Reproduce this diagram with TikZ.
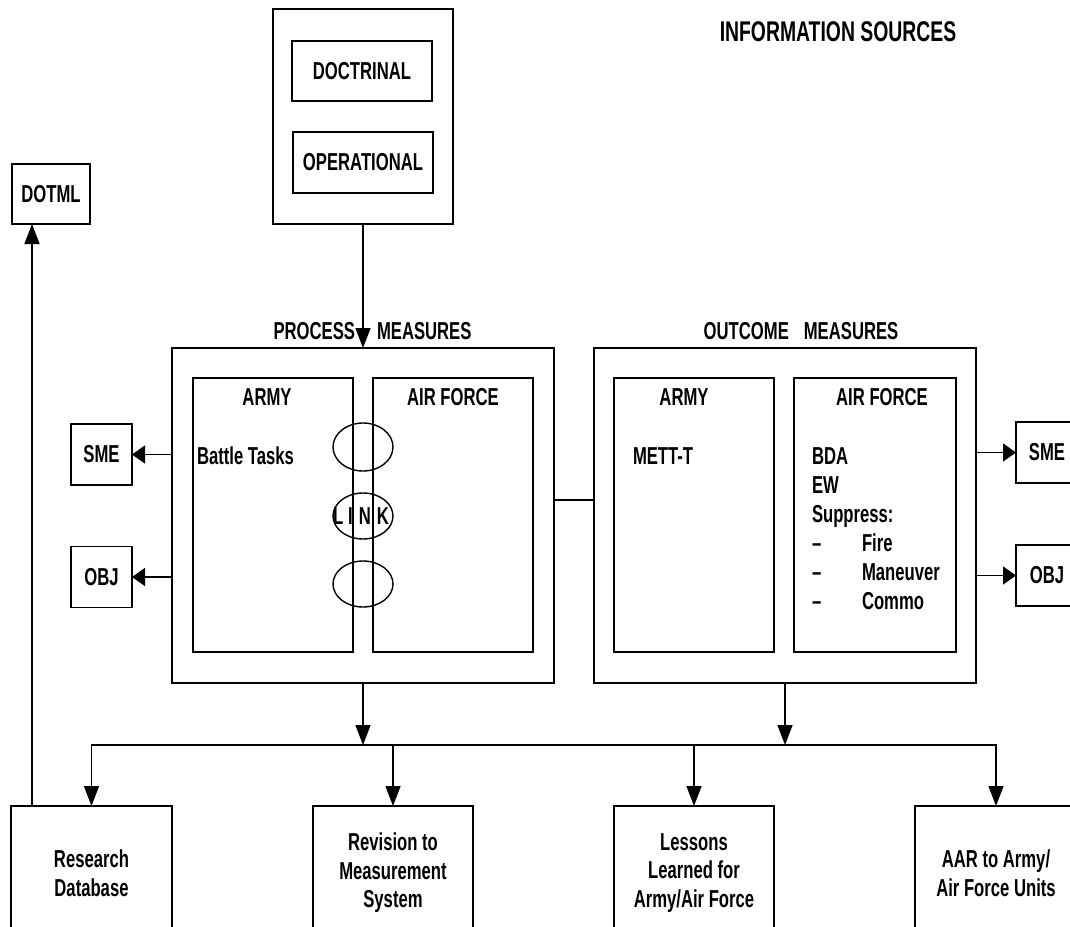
\documentclass[tikz,border=0pt]{standalone}
\usepackage{fontspec}
\setmainfont{Liberation Sans}[FakeStretch=0.68]
\usetikzlibrary{arrows.meta,shapes.geometric}
\newcommand{\fs}{\fontsize{24.5}{28.5}\selectfont\bfseries}
\begin{document}
\begin{tikzpicture}[x=1pt,y=-1pt,
  box/.style={draw, line width=1.4pt, inner sep=0pt, outer sep=0pt, font=\fs, align=center},
  lbl/.style={inner sep=0pt, outer sep=0pt, font=\fs, anchor=base},
  lbll/.style={lbl, anchor=base west},
  varr/.style={line width=1.4pt, -{Triangle[length=20pt,width=15pt]}},
  darr/.style={line width=1.4pt, {Triangle[length=20pt,width=15pt]}-{Triangle[length=20pt,width=15pt]}},
  harr/.style={line width=1.4pt, -{Triangle[length=13pt,width=18pt]}},
  conn/.style={line width=1.4pt},
  linkell/.style={draw, ellipse, line width=1.4pt, inner sep=0pt, minimum width=60pt, minimum height=46pt}]
\clip (0,0) rectangle (1070,926);
% information sources
\node[box, minimum width=180pt, minimum height=215pt] (src) at (363,116.5) {};
\node[box, minimum width=140pt, minimum height=60pt] (doc) at (362,71) {DOCTRINAL};
\node[box, minimum width=140pt, minimum height=61pt] (ops) at (363,162.5) {OPERATIONAL};
\node[lbl, font=\fontsize{28.5}{30}\selectfont\bfseries] (info) at (838,41) {INFORMATION SOURCES};
\node[box, minimum width=78pt, minimum height=60pt] (dotml) at (51,194) {DOTML};
% process measures
\node[box, minimum width=382pt, minimum height=335pt] (proc) at (363,515.5) {};
\node[lbl] (proct) at (372.5,339) {PROCESS\hspace{22pt}MEASURES};
\node[box, minimum width=160pt, minimum height=274pt] (parmy) at (273,515) {};
\node[box, minimum width=160pt, minimum height=274pt] (paf) at (453,515) {};
\node[lbl] (parmyt) at (267,405) {ARMY};
\node[lbl] (paft) at (453,405) {AIR FORCE};
\node[lbll] (battle) at (197,464) {Battle Tasks};
\node[linkell, minimum height=48pt] (e1) at (363,447) {};
\node[linkell] (e2) at (363,516) {};
\node[linkell] (e3) at (363,584) {};
\node[lbl] (linkt) at (361,524) {L\kern5pt I\kern6pt N\kern6pt K};
% outcome measures
\node[box, minimum width=382pt, minimum height=335pt] (outc) at (785,515.5) {};
\node[lbl] (outct) at (801,339) {OUTCOME\hspace{15pt}MEASURES};
\node[box, minimum width=160pt, minimum height=274pt] (oarmy) at (694,515) {};
\node[box, minimum width=162pt, minimum height=274pt] (oaf) at (875,515) {};
\node[lbl] (oarmyt) at (684,405) {ARMY};
\node[lbl] (oaft) at (882,405) {AIR FORCE};
\node[lbll] (mett) at (633,464) {METT-T};
\node[lbll] (bda) at (812,464) {BDA};
\node[lbll] (ew) at (812,493) {EW};
\node[lbll] (supp) at (812,522) {Suppress:};
\node[lbll] (fire) at (812,551) {\makebox[50pt][l]{--}Fire};
\node[lbll] (man) at (812,580) {\makebox[50pt][l]{--}Maneuver};
\node[lbll] (com) at (812,609) {\makebox[50pt][l]{--}Commo};
% side boxes
\node[box, minimum width=61pt, minimum height=61pt] (smel) at (101.5,454.5) {SME};
\node[box, minimum width=61pt, minimum height=61pt] (objl) at (101.5,577) {OBJ};
\node[box, minimum width=62pt, minimum height=61pt] (smer) at (1047,452.5) {SME};
\node[box, minimum width=62pt, minimum height=61pt] (objr) at (1047,575.5) {OBJ};
% bottom boxes
\node[box, minimum width=161pt, minimum height=134pt] (rdb) at (91.5,873) {Research\\Database};
\node[box, minimum width=160pt, minimum height=134pt] (rev) at (393,873) {Revision to\\Measurement\\System};
\node[box, minimum width=160pt, minimum height=134pt] (les) at (694,873) {Lessons\\Learned for\\Army/Air Force};
\node[box, minimum width=162pt, minimum height=134pt] (aar) at (996,873) {AAR to Army/\\Air Force Units};
% connectors
\coordinate (bus) at (0,745);
\draw[varr] (src.south) -- (src.south |- proc.north);
\draw[harr] (proc.west |- smel.east) -- (smel.east);
\draw[harr] (proc.west |- objl.east) -- (objl.east);
\draw[harr] (outc.east |- smer.west) -- (smer.west);
\draw[harr] (outc.east |- objr.west) -- (objr.west);
\draw[conn] (proc.east |- 0,500) -- (outc.west |- 0,500);
\draw[varr] (proc.south) -- (proc.south |- bus);
\draw[varr] (outc.south) -- (outc.south |- bus);
\draw[darr] (rdb.north) -- (rdb.north |- bus) -- (aar.north |- bus) -- (aar.north);
\draw[varr] (rev.north |- bus) -- (rev.north);
\draw[varr] (les.north |- bus) -- (les.north);
\draw[varr] ([xshift=21pt]rdb.north west) -- ([xshift=20pt]dotml.south west);
\end{tikzpicture}
\end{document}
